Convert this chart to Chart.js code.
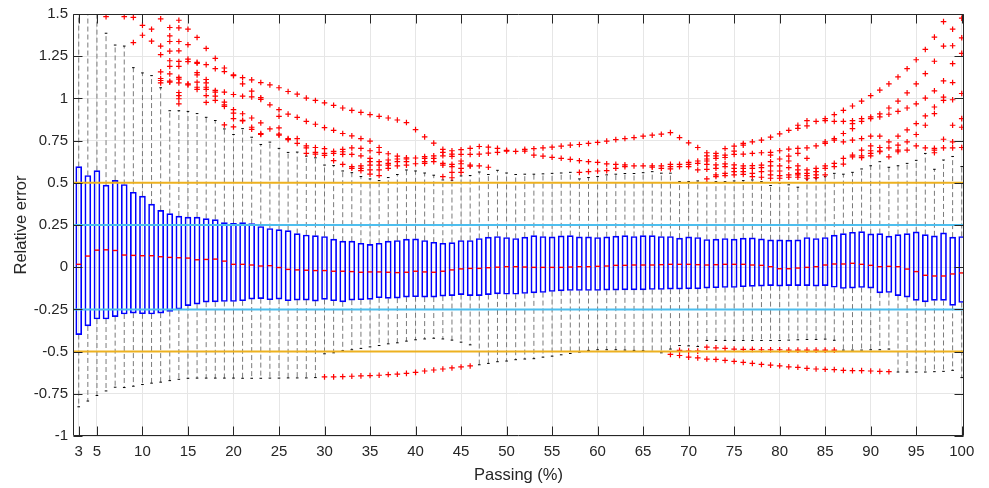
<!DOCTYPE html>
<html>
<head>
<meta charset="utf-8">
<script src="https://cdn.jsdelivr.net/npm/chart.js@4/dist/chart.umd.min.js"></script>
<style>
html,body{margin:0;padding:0;background:#fff;}
#wrap{width:989px;height:488px;}
</style>
</head>
<body>
<div id="wrap"><canvas id="c" width="989" height="488"></canvas></div>
<script>
// ---- data ----
const passing = [3,4,5,6,7,8,9,10,11,12,13,14,15,16,17,18,19,20,21,22,23,24,25,26,27,28,29,30,31,32,33,34,35,36,37,38,39,40,41,42,43,44,45,46,47,48,49,50,51,52,53,54,55,56,57,58,59,60,61,62,63,64,65,66,67,68,69,70,71,72,73,74,75,76,77,78,79,80,81,82,83,84,85,86,87,88,89,90,91,92,93,94,95,96,97,98,99,100];

const q3 = [0.596,0.543,0.572,0.486,0.514,0.490,0.444,0.421,0.374,0.337,
0.317,0.303,0.297,0.297,0.288,0.282,0.264,0.260,0.264,0.258,
0.241,0.229,0.223,0.217,0.199,0.191,0.187,0.182,0.166,0.154,
0.154,0.142,0.135,0.142,0.154,0.158,0.166,0.168,0.158,0.148,
0.142,0.146,0.158,0.158,0.170,0.178,0.182,0.176,0.170,0.178,
0.187,0.182,0.180,0.186,0.187,0.180,0.180,0.176,0.180,0.184,
0.187,0.182,0.187,0.187,0.182,0.182,0.172,0.180,0.176,0.164,
0.166,0.170,0.166,0.172,0.174,0.168,0.162,0.162,0.160,0.162,
0.176,0.170,0.176,0.190,0.199,0.207,0.211,0.197,0.199,0.184,
0.193,0.199,0.209,0.193,0.186,0.203,0.178,0.182];

const median = [0.017,0.066,0.101,0.103,0.099,0.072,0.070,0.068,0.068,0.062,
0.058,0.056,0.054,0.044,0.046,0.048,0.036,0.017,0.017,0.013,
0.007,0.009,-0.002,-0.013,-0.016,-0.018,-0.020,-0.020,-0.024,-0.024,
-0.026,-0.030,-0.028,-0.028,-0.030,-0.032,-0.030,-0.024,-0.028,-0.030,
-0.024,-0.016,-0.010,-0.007,-0.007,-0.003,0.000,0.003,0.003,0.001,
-0.001,-0.001,-0.001,-0.001,0.001,0.003,0.003,0.005,0.007,0.011,
0.011,0.013,0.013,0.013,0.015,0.017,0.017,0.017,0.015,0.013,
0.015,0.017,0.017,0.017,0.013,0.011,0.003,-0.009,-0.009,-0.005,
-0.001,0.003,0.013,0.019,0.019,0.023,0.017,0.011,0.003,0.005,
0.003,-0.011,-0.026,-0.048,-0.052,-0.052,-0.040,-0.034];

const q1 = [-0.399,-0.348,-0.307,-0.307,-0.293,-0.277,-0.272,-0.276,-0.277,-0.272,
-0.262,-0.248,-0.228,-0.219,-0.207,-0.205,-0.203,-0.203,-0.199,-0.189,
-0.186,-0.193,-0.189,-0.199,-0.195,-0.195,-0.201,-0.191,-0.199,-0.205,
-0.195,-0.193,-0.191,-0.181,-0.185,-0.183,-0.177,-0.175,-0.177,-0.177,
-0.171,-0.168,-0.162,-0.168,-0.168,-0.162,-0.158,-0.160,-0.160,-0.156,
-0.152,-0.150,-0.144,-0.140,-0.138,-0.138,-0.138,-0.138,-0.136,-0.136,
-0.134,-0.134,-0.134,-0.132,-0.132,-0.130,-0.130,-0.128,-0.128,-0.124,
-0.122,-0.120,-0.120,-0.116,-0.114,-0.112,-0.109,-0.112,-0.109,-0.109,
-0.109,-0.112,-0.109,-0.119,-0.126,-0.124,-0.120,-0.124,-0.152,-0.150,
-0.168,-0.177,-0.197,-0.205,-0.197,-0.197,-0.226,-0.209];

const whiskerLow = [-0.827,-0.793,-0.760,-0.733,-0.711,-0.713,-0.705,-0.695,-0.687,-0.681,
-0.672,-0.664,-0.658,-0.657,-0.657,-0.657,-0.657,-0.657,-0.658,-0.658,
-0.658,-0.657,-0.657,-0.656,-0.656,-0.656,-0.654,-0.513,-0.507,-0.495,
-0.489,-0.481,-0.472,-0.464,-0.454,-0.448,-0.438,-0.430,-0.425,-0.421,
-0.425,-0.432,-0.444,-0.460,-0.578,-0.570,-0.560,-0.556,-0.548,-0.544,
-0.542,-0.533,-0.527,-0.519,-0.511,-0.503,-0.493,-0.489,-0.489,-0.489,
-0.491,-0.493,-0.495,-0.499,-0.507,-0.485,-0.464,-0.466,-0.470,-0.434,
-0.434,-0.434,-0.434,-0.434,-0.434,-0.434,-0.434,-0.434,-0.432,-0.430,
-0.428,-0.428,-0.426,-0.433,-0.491,-0.491,-0.491,-0.489,-0.489,-0.485,
-0.621,-0.621,-0.621,-0.621,-0.619,-0.617,-0.611,-0.654];

const whiskerHigh = [1.62,1.62,1.62,1.386,1.316,1.310,1.182,1.151,1.135,1.063,
0.927,0.927,0.923,0.910,0.888,0.869,0.819,0.786,0.821,0.770,
0.727,0.741,0.704,0.680,0.682,0.658,0.648,0.605,0.602,0.570,
0.560,0.537,0.523,0.513,0.531,0.549,0.576,0.570,0.558,0.545,
0.517,0.515,0.541,0.543,0.564,0.549,0.574,0.558,0.549,0.551,
0.551,0.553,0.556,0.558,0.562,0.523,0.531,0.537,0.547,0.551,
0.555,0.555,0.560,0.566,0.557,0.557,0.507,0.507,0.511,0.503,
0.507,0.507,0.511,0.513,0.517,0.507,0.484,0.497,0.488,0.474,
0.521,0.527,0.537,0.556,0.551,0.562,0.582,0.601,0.625,0.592,
0.601,0.615,0.633,0.674,0.580,0.635,0.656,0.596];

const outliers = [
[],[],[],[1.484],[],[1.484],[1.480,1.331],[1.433,1.374],[1.410,1.339],
[1.471,1.310,1.259,1.157,1.118,1.106,1.092],
[1.420,1.371,1.337,1.280,1.223,1.190,1.145,1.102,1.096],
[1.463,1.418,1.337,1.282,1.219,1.190,1.125,1.114,1.092,1.035,1.017,0.998,0.968],
[1.410,1.318,1.233,1.218,1.086,1.080],
[1.361,1.214,1.208,1.153,1.139,1.096,1.066,1.053],
[1.296,1.200,1.112,1.092,1.066,1.053,1.017,0.976],
[1.237,1.176,1.047,1.037,1.013,0.988],
[1.180,1.159,1.037,0.978,0.962,0.953,0.843],
[1.139,1.135,1.023,0.933,0.913,0.880,0.831],
[1.123,1.086,1.013,0.909,0.870,0.866],
[1.110,1.043,1.009,0.884,0.829,0.817],
[1.094,1.004,0.994,0.855,0.792,0.786],
[1.080,0.962,0.819],
[1.063,0.933,0.894,0.825,0.788,0.782],
[1.041,0.907,0.762,0.756],
[1.025,0.888,0.762,0.733],
[1.002,0.864,0.719,0.707,0.674],
[0.988,0.847,0.709,0.680,0.670],
[0.974,0.827,0.702,0.674,0.662,-0.650],
[0.959,0.811,0.686,0.674,0.631,-0.650],
[0.943,0.792,0.698,0.684,0.668,0.609,-0.648],
[0.929,0.778,0.707,0.668,0.596,0.586,-0.646],
[0.917,0.762,0.704,0.660,0.600,0.586,0.572,-0.644],
[0.904,0.747,0.690,0.645,0.625,0.605,0.576,0.551,-0.642],
[0.894,0.709,0.680,0.625,0.605,0.576,0.543,-0.640],
[0.884,0.672,0.635,0.615,0.605,0.586,-0.636],
[0.872,0.658,0.641,0.625,0.600,-0.634],
[0.857,0.648,0.641,0.625,0.605,-0.629],
[0.815,0.647,0.613,-0.623],
[0.772,0.655,0.645,0.625,0.615,-0.615],
[0.735,0.660,0.645,0.625,-0.609],
[0.698,0.680,0.660,0.615,0.605,0.537,-0.603],
[0.690,0.670,0.656,0.609,0.596,0.562,0.530,-0.597],
[0.696,0.668,0.629,0.613,0.586,0.562,-0.591],
[0.704,0.668,0.605,0.598,-0.585],
[0.715,0.670,0.600],
[0.711,0.676,0.592],
[0.704,0.680],
[0.692,0.688],
[0.686],
[0.698,0.688],
[0.702,0.664],
[0.707,0.658],
[0.711,0.651],
[0.717,0.645],
[0.723,0.639],
[0.727,0.631,0.562],
[0.733,0.625,0.566],
[0.739,0.621,0.570],
[0.747,0.612,0.572],
[0.756,0.609,0.586],
[0.762,0.606,0.596],
[0.768,0.600],
[0.776,0.600],
[0.782,0.600,0.592],
[0.788,0.600,0.586],
[0.797,0.609,0.596,0.582,-0.517],
[0.768,0.609,0.596,-0.493,-0.523],
[0.737,0.621,0.609,0.596,-0.497,-0.533],
[0.709,0.629,0.615,0.576,-0.497,-0.537],
[0.678,0.659,0.641,0.629,0.609,0.580,0.523,-0.474,-0.544],
[0.674,0.660,0.645,0.606,0.586,0.547,0.537,-0.478,-0.546],
[0.703,0.664,0.650,0.612,0.596,0.556,0.543,-0.481,-0.552],
[0.717,0.688,0.668,0.606,0.586,0.566,0.547,-0.485,-0.558],
[0.733,0.723,0.670,0.600,0.586,0.566,0.550,-0.487,-0.564],
[0.743,0.674,0.602,0.586,0.556,0.537,-0.487,-0.570],
[0.753,0.678,0.605,0.590,0.566,0.533,-0.489,-0.576],
[0.770,0.680,0.664,0.625,0.600,0.570,0.547,0.527,-0.489,-0.580],
[0.790,0.690,0.641,0.600,0.570,0.543,0.527,-0.489,-0.584],
[0.811,0.700,0.658,0.629,0.590,0.547,0.533,-0.491,-0.590],
[0.841,0.823,0.704,0.674,0.600,0.576,0.556,0.547,0.533,-0.491,-0.593],
[0.868,0.837,0.707,0.645,0.576,0.556,0.543,0.527,-0.491,-0.599],
[0.864,0.719,0.586,0.566,0.547,0.531,-0.491,-0.603],
[0.880,0.868,0.743,0.733,0.600,0.586,0.547,-0.491,-0.605],
[0.904,0.864,0.762,0.753,0.615,0.596,-0.491,-0.607],
[0.929,0.864,0.792,0.743,0.645,0.611,-0.611],
[0.955,0.868,0.851,0.821,0.753,0.664,0.654,-0.613],
[0.984,0.880,0.864,0.762,0.694,0.660,0.649,-0.613],
[1.016,0.890,0.880,0.776,0.719,0.690,0.674,0.660,-0.615],
[1.049,0.908,0.890,0.776,0.709,0.688,0.684,-0.617],
[1.086,0.943,0.906,0.743,0.707,0.654,-0.619],
[1.127,0.984,0.923,0.776,0.723,0.694,0.684],
[1.176,1.033,0.943,0.813,0.743,0.694],
[1.229,1.086,0.968,0.851,0.786,0.719],
[1.290,1.147,1.002,0.896,0.841,0.707],
[1.363,1.220,1.045,0.949,0.910,0.704,0.694,0.678],
[1.455,1.310,1.104,1.008,0.988,0.758,0.707],
[1.410,1.312,1.206,1.094,0.992,0.841,0.743,0.707],
[1.475,1.359,1.267,1.029,0.880,0.829,0.709]
];

const xTickValues = [3,5,10,15,20,25,30,35,40,45,50,55,60,65,70,75,80,85,90,95,100];
const xTickLabels = ['3','5','10','15','20','25','30','35','40','45','50','55','60','65','70','75','80','85','90','95','100'];
const yTickValues = [-1,-0.75,-0.5,-0.25,0,0.25,0.5,0.75,1,1.25,1.5];
const yTickLabels = ['-1','-0.75','-0.5','-0.25','0','0.25','0.5','0.75','1','1.25','1.5'];
const toleranceOuter = [0.5,-0.5];
const toleranceInner = [0.25,-0.25];
const xRange = [2.37,100.25];

// ---- build datasets ----
const boxData = passing.map((c,i) => ({x:c, y:[q1[i], q3[i]]}));
const medData = passing.map((c,i) => ({x:c, y:median[i]}));
const whiskerData = [];
const capData = [];
passing.forEach((c,i) => {
  whiskerData.push({x:c,y:q3[i]},{x:c,y:whiskerHigh[i]},{x:c,y:null});
  whiskerData.push({x:c,y:q1[i]},{x:c,y:whiskerLow[i]},{x:c,y:null});
  capData.push({x:c,y:whiskerHigh[i]},{x:c,y:whiskerLow[i]});
});
const outData = [];
passing.forEach((c,i) => outliers[i].forEach(v => outData.push({x:c,y:v})));
function hline(v){ return [{x:xRange[0],y:v},{x:xRange[1],y:v},{x:xRange[1],y:null}]; }
const orangeData = [].concat(...toleranceOuter.map(hline));
const blueData = [].concat(...toleranceInner.map(hline));

const FONT = "'Liberation Sans', Arial, Helvetica, sans-serif";
const TXT = '#262626';

const frame = {
  id: 'frame',
  afterDraw(chart) {
    const {ctx, chartArea: a, scales} = chart;
    const L = Math.floor(a.left) + 0.5, R = Math.ceil(a.right) - 0.5;
    const T = Math.floor(a.top) + 0.5, B = Math.ceil(a.bottom) - 0.5;
    const tl = 9;
    ctx.save();
    ctx.strokeStyle = TXT; ctx.lineWidth = 1;
    ctx.beginPath();
    ctx.rect(L, T, R - L, B - T);
    scales.x.ticks.forEach(t => {
      const px = Math.round(scales.x.getPixelForValue(t.value)) + 0.5;
      ctx.moveTo(px, B); ctx.lineTo(px, B - tl);
      ctx.moveTo(px, T); ctx.lineTo(px, T + tl);
    });
    scales.y.ticks.forEach(t => {
      const py = Math.round(scales.y.getPixelForValue(t.value)) + 0.5;
      ctx.moveTo(L, py); ctx.lineTo(L + tl, py);
      ctx.moveTo(R, py); ctx.lineTo(R - tl, py);
    });
    ctx.stroke();
    ctx.restore();
  }
};

new Chart(document.getElementById('c'), {
  type: 'scatter',
  data: {
    datasets: [
      {type:'line', data: orangeData, borderColor:'#EDB120', borderWidth:2, pointRadius:0, spanGaps:false, order:0},
      {type:'line', data: blueData, borderColor:'#4DBEEE', borderWidth:2, pointRadius:0, spanGaps:false, order:0},
      {type:'scatter', data: medData, pointStyle:'line', pointRadius:2.5, borderColor:'#FF0000', borderWidth:1.4, order:1},
      {type:'bar', data: boxData, backgroundColor:'rgba(255,255,255,0)', borderColor:'#0000FF', borderWidth:1, borderSkipped:false, barThickness:6, order:2},
      {type:'scatter', data: outData, pointStyle:'cross', pointRadius:2.8, borderColor:'#FF0000', borderWidth:1.2, order:3},
      {type:'scatter', data: capData, pointStyle:'line', pointRadius:1.3, borderColor:'#000000', borderWidth:1, order:4},
      {type:'line', data: whiskerData, borderColor:'#7a7a7a', borderWidth:1, borderDash:[5,3], pointRadius:0, spanGaps:false, order:5}
    ]
  },
  options: {
    responsive: false,
    animation: false,
    devicePixelRatio: 1,
    events: [],
    layout: {padding: {left:0, right:25, top:11, bottom:0}},
    plugins: {legend:{display:false}, tooltip:{enabled:false}},
    scales: {
      x: {
        type:'linear', min:xRange[0], max:xRange[1], offset:false,
        afterBuildTicks: s => { s.ticks = xTickValues.map(v => ({value:v})); },
        afterFit: s => { s.height = 52; },
        ticks: {autoSkip:false, maxRotation:0, padding:7, color:TXT, font:{family:FONT, size:15},
                callback: (v, i) => xTickLabels[i]},
        grid: {color:'#e6e6e6', drawTicks:false, offset:false},
        border: {display:false},
        title: {display:true, text:'Passing (%)', color:TXT, font:{family:FONT, size:16.5}, padding:{top:0, bottom:3}}
      },
      y: {
        type:'linear', min:-1, max:1.5,
        afterBuildTicks: s => { s.ticks = yTickValues.map(v => ({value:v})); },
        afterFit: s => { s.width = 73; },
        ticks: {padding:5, color:TXT, font:{family:FONT, size:15},
                callback: (v, i) => yTickLabels[i]},
        grid: {color:'#e6e6e6', drawTicks:false},
        border: {display:false},
        title: {display:true, text:'Relative error', color:TXT, font:{family:FONT, size:16.5}, padding:{top:12, bottom:0}}
      }
    }
  },
  plugins: [frame]
});
</script>
</body>
</html>
